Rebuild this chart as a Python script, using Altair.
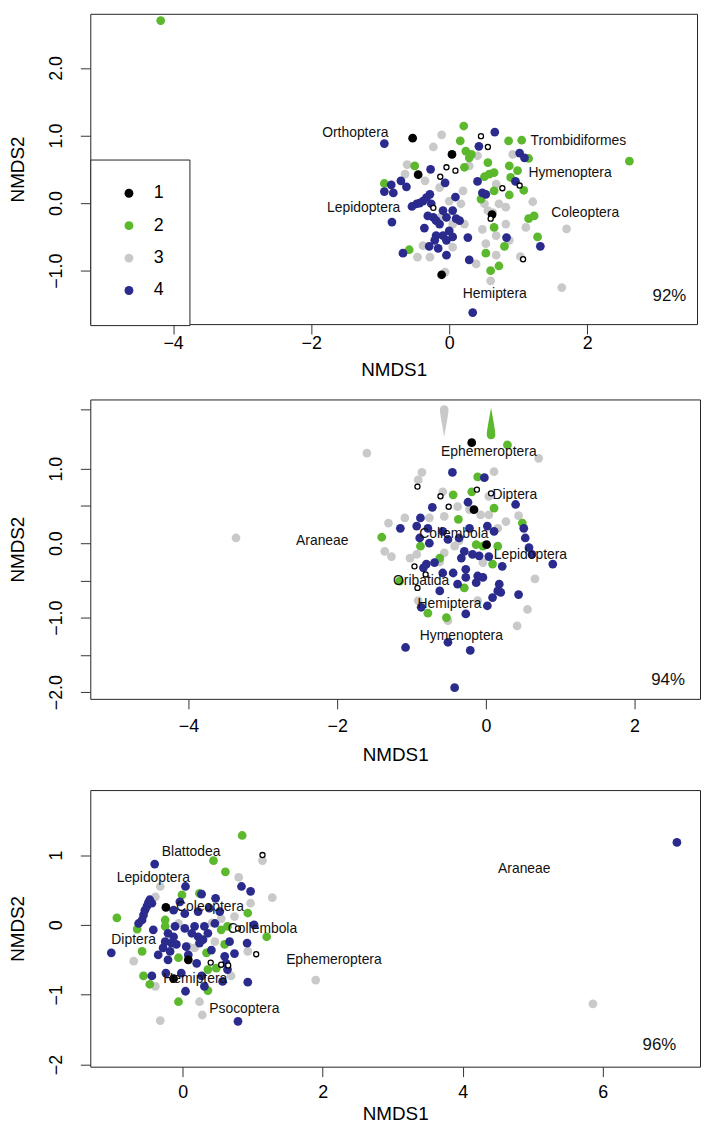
import altair as alt
import pandas as pd

FONT = "Liberation Sans"
GROUPS = ["1", "2", "3", "4"]
GROUP_COLORS = ["#000000", "#5cb82c", "#c9c9c9", "#2b2b8e"]
DRAW_ORDER = ["3", "2", "4", "1"]

# ---------------- panel 1 ----------------
P1_GROUP1 = [(-0.53, 0.96), (0.04, 0.72), (-0.45, 0.42), (-0.11, -1.06), (0.62, -0.17)]
P1_GROUP2 = [(-4.18, 2.70), (0.21, 1.14), (0.16, 0.92), (0.86, 0.92), (1.05, 0.93), (1.15, 0.66),
             (2.61, 0.62), (0.24, 0.77), (0.32, 0.72), (0.29, 0.67), (-0.50, 0.55), (-0.94, 0.29),
             (0.56, 0.60), (0.65, 0.45), (0.58, 0.43), (0.51, 0.39), (0.87, 0.55), (0.99, 0.48),
             (0.89, 0.38), (1.08, 0.19), (0.87, 0.12), (0.46, 0.06), (0.65, 0.18), (1.15, -0.23),
             (1.23, -0.19), (0.65, -0.36), (1.28, -0.50), (0.80, -0.64), (-0.58, -0.69), (0.53, -0.74),
             (0.72, -0.93), (0.60, -1.00), (0.22, 0.53)]
P1_GROUP3 = [(-0.11, 1.01), (-0.23, 0.83), (-0.61, 0.57), (0.29, 0.55), (0.41, 0.70), (0.92, 0.72),
             (-0.64, 0.43), (-0.35, 0.33), (-0.14, 0.23), (0.20, 0.18), (0.00, 0.03), (0.17, -0.01),
             (0.51, -0.01), (0.72, -0.01), (0.82, -0.06), (1.21, 0.02), (0.68, 0.28), (-0.11, -0.19),
             (0.05, -0.31), (0.22, -0.31), (0.48, -0.39), (0.68, -0.48), (0.82, -0.31), (1.11, -0.36),
             (1.70, -0.38), (-0.38, -0.63), (0.05, -0.65), (0.53, -0.60), (0.68, -0.77), (1.03, -0.79),
             (-0.46, -0.80), (-0.28, -0.80), (0.39, -0.90), (0.60, -1.15), (1.63, -1.25), (-0.06, -1.02),
             (0.87, -0.55), (0.63, -0.14), (0.56, -0.11)]
P1_GROUP4 = [(-0.94, 0.88), (0.66, 1.05), (0.43, 0.84), (1.02, 0.74), (1.09, 0.67), (-0.27, 0.50),
             (-0.84, 0.27), (-0.94, 0.17), (-0.81, 0.15), (-0.70, 0.33), (-0.62, 0.24), (-0.06, 0.30),
             (0.41, 0.32), (0.48, 0.15), (0.53, 0.13), (0.96, 0.32), (0.09, 0.09), (-0.28, 0.13),
             (-0.33, 0.08), (-0.38, 0.03), (-0.43, 0.00), (-0.47, -0.01), (-0.54, -0.05), (-0.26, -0.01),
             (-0.09, -0.11), (0.05, -0.11), (-0.31, -0.19), (-0.23, -0.21), (-0.19, -0.26), (-0.04, -0.21),
             (0.10, -0.23), (0.15, -0.26), (-0.83, -0.28), (-0.36, -0.37), (-0.14, -0.31), (0.00, -0.41),
             (-0.09, -0.48), (0.05, -0.50), (-0.19, -0.48), (-0.21, -0.55), (-0.04, -0.55), (0.27, -0.51),
             (-0.29, -0.64), (-0.16, -0.67), (-0.67, -0.74), (-0.04, -0.77), (0.29, -0.84), (0.83, -0.51),
             (1.32, -0.64), (0.34, -1.62)]
P1_OPEN = [(0.46, 0.99), (0.56, 0.83), (-0.04, 0.53), (0.09, 0.48), (-0.13, 0.39), (0.77, 0.22),
           (1.02, 0.26), (-0.23, -0.07), (0.60, -0.23), (1.07, -0.83)]
P1_TAXA = ["Orthoptera", "Trombidiformes", "Hymenoptera", "Lepidoptera", "Coleoptera", "Hemiptera"]
P1_TAXA_X = [-1.36, 1.87, 1.75, -1.24, 1.97, 0.66]
P1_TAXA_Y = [1.04, 0.92, 0.44, -0.08, -0.15, -1.34]
P1_FIT = ["92%"]
P1_FIT_X = [3.19]
P1_FIT_Y = [-1.37]

# ---------------- panel 2 ----------------
P2_GROUP1 = [(-0.19, 1.35), (0.01, -0.02), (-0.16, 0.45)]
P2_GROUP2 = [(0.29, 1.32), (-0.11, 0.89), (-0.44, 0.65), (-0.19, 0.69), (0.11, 0.47), (-0.37, 0.32),
             (-1.40, 0.08), (-0.88, -0.04), (-0.13, -0.02), (0.16, -0.04), (0.49, 0.27), (-0.62, -0.20),
             (0.09, -0.28), (-1.16, -0.51), (-0.29, -0.60), (-0.78, -0.94), (-0.53, -1.00), (-0.04, -0.04)]
P2_GROUP3 = [(-1.60, 1.21), (0.71, 1.14), (-3.36, 0.07), (-0.86, 0.95), (-0.91, 0.85), (0.11, 0.96),
             (-0.58, 0.69), (0.04, 0.63), (-0.38, 0.49), (-0.22, 0.45), (-0.07, 0.38), (0.04, 0.38),
             (-0.56, 0.36), (0.27, 0.29), (0.44, 0.37), (-1.31, 0.27), (-1.09, 0.34), (0.16, 0.20),
             (-0.36, 0.03), (-0.42, -0.04), (-1.36, -0.11), (-1.27, -0.18), (-1.02, -0.20), (-0.93, -0.15),
             (-0.56, -0.13), (-0.04, -0.26), (0.66, -0.48), (-0.76, 0.34), (-0.91, -0.77), (-0.11, -0.77),
             (0.56, -0.89), (0.42, -1.11), (-0.51, -1.04), (-0.62, -0.25)]
P2_GROUP4 = [(-0.45, 0.95), (-0.02, 0.88), (-0.24, 0.55), (-0.72, 0.48), (-0.88, 0.34), (0.40, 0.52),
             (-1.15, 0.20), (-0.93, 0.23), (-0.78, 0.20), (-0.58, 0.16), (-0.36, 0.07), (-0.22, 0.20),
             (0.02, 0.23), (0.11, 0.16), (0.51, 0.20), (0.53, 0.07), (0.58, -0.06), (0.62, -0.15),
             (0.90, -0.28), (-0.89, 0.07), (-0.76, 0.00), (-0.51, 0.05), (-0.29, -0.11), (-0.18, -0.15),
             (-0.09, -0.17), (0.04, -0.18), (-0.33, -0.20), (0.22, -0.31), (-0.80, -0.28), (-0.69, -0.26),
             (-0.84, -0.33), (-0.58, -0.40), (-0.44, -0.40), (-0.27, -0.35), (-0.11, -0.44), (-0.04, -0.46),
             (-0.38, -0.55), (-0.27, -0.46), (-0.13, -0.53), (-0.62, -0.64), (0.18, -0.55), (0.16, -0.64),
             (0.20, -0.66), (0.09, -0.73), (0.44, -0.69), (0.02, -0.84), (-0.87, -0.86), (-0.27, -0.95),
             (-1.08, -1.40), (-0.51, -1.33), (-0.21, -1.44), (-0.42, -1.94)]
P2_OPEN = [(-0.92, 0.76), (-0.61, 0.63), (-0.50, 0.49), (-0.12, 0.72), (0.07, 0.67), (-0.96, -0.31),
           (-0.81, -0.42), (-0.92, -0.60)]
P2_STREAK_GREY = [(-0.56, 1.64)]
P2_STREAK_GREEN = [(0.07, 1.61)]
P2_TAXA = ["Ephemeroptera", "Diptera", "Araneae", "Collembola", "Lepidoptera", "Oribatida",
           "Hemiptera", "Hymenoptera"]
P2_TAXA_X = [0.04, 0.39, -2.20, -0.43, 0.60, -0.87, -0.49, -0.33]
P2_TAXA_Y = [1.23, 0.65, 0.03, 0.12, -0.16, -0.51, -0.81, -1.24]
P2_FIT = ["94%"]
P2_FIT_X = [2.45]
P2_FIT_Y = [-1.84]

# ---------------- panel 3 ----------------
P3_GROUP1 = [(-0.24, 0.25), (0.08, -0.50), (-0.13, -0.77)]
P3_GROUP2 = [(0.85, 1.28), (0.44, 0.92), (0.61, 0.76), (-0.94, 0.10), (-0.65, -0.06), (-0.25, -0.02),
             (-0.01, 0.43), (0.24, 0.45), (0.93, 0.17), (1.20, -0.17), (0.55, -0.07), (0.64, -0.02),
             (0.60, -0.28), (-0.58, -0.38), (-0.06, -0.47), (0.34, -0.40), (0.36, -0.64), (0.48, -0.62),
             (-0.56, -0.73), (-0.47, -0.85), (0.36, -0.94), (-0.06, -1.10), (-0.25, 0.07)]
P3_GROUP3 = [(0.80, 0.68), (1.14, 0.92), (1.28, 0.39), (-0.32, 0.55), (-0.39, 0.40), (0.97, 0.31),
             (-0.06, 0.02), (0.42, 0.03), (0.55, 0.09), (0.74, 0.12), (0.17, -0.33), (-0.70, -0.52),
             (0.08, -0.31), (0.93, -0.38), (0.69, -0.73), (-0.39, -0.88), (0.24, -1.10), (0.28, -1.29),
             (-0.32, -1.37), (1.90, -0.79), (0.46, -0.24), (5.86, -1.13)]
P3_GROUP4 = [(-0.40, 0.87), (0.04, 0.55), (0.27, 0.44), (0.47, 0.38), (0.84, 0.55), (0.97, 0.48),
             (-0.58, 0.07), (-0.56, 0.14), (-0.54, 0.21), (-0.51, 0.27), (-0.49, 0.32), (-0.47, 0.36),
             (-0.44, 0.31), (-0.63, 0.02), (-0.13, 0.21), (0.03, 0.16), (0.22, 0.19), (0.31, -0.02),
             (0.46, 0.02), (0.03, -0.05), (-0.21, -0.12), (-0.13, -0.17), (-0.25, -0.24), (-0.16, -0.26),
             (-0.09, -0.28), (-0.28, -0.33), (-0.18, -0.38), (-0.35, -0.43), (-0.21, -0.50), (-0.42, -0.07),
             (0.22, -0.17), (0.29, -0.21), (0.36, -0.12), (0.24, -0.26), (0.41, -0.36), (0.05, -0.31),
             (0.08, -0.43), (0.20, -0.55), (0.60, -0.45), (0.74, -0.41), (0.62, -0.55), (0.64, -0.64),
             (0.57, -0.81), (0.93, -0.82), (1.02, 0.00), (0.92, -0.26), (0.67, -0.24), (-0.24, -0.69),
             (-0.44, -0.73), (-0.02, -0.69), (0.27, -0.73), (0.31, -0.88), (0.04, -0.95), (0.79, -1.38),
             (-1.02, -0.40), (-0.11, -0.02), (0.17, -0.02), (0.13, -0.12), (0.38, 0.24), (0.53, 0.19),
             (-0.04, 0.33), (7.06, 1.18)]
P3_OPEN = [(1.14, 1.00), (0.79, -0.05), (1.05, -0.42), (0.40, -0.54), (0.55, -0.57), (0.65, -0.58)]
P3_TAXA = ["Blattodea", "Lepidoptera", "Coleoptera", "Collembola", "Diptera", "Ephemeroptera",
           "Hemiptera", "Psocoptera", "Araneae"]
P3_TAXA_X = [0.12, -0.42, 0.39, 1.14, -0.70, 2.16, 0.18, 0.88, 4.88]
P3_TAXA_Y = [1.04, 0.67, 0.25, -0.06, -0.21, -0.50, -0.78, -1.21, 0.80]
P3_FIT = ["96%"]
P3_FIT_X = [6.81]
P3_FIT_Y = [-1.72]

GREY_STREAK = "M-0.27,-0.73 C-0.27,-1.09 0.27,-1.09 0.27,-0.73 C0.27,-0.4 0.06,0.6 0,1 C-0.06,0.6 -0.27,-0.4 -0.27,-0.73 Z"
GREEN_STREAK = "M-0.27,0.73 C-0.27,1.09 0.27,1.09 0.27,0.73 C0.27,0.4 0.06,-0.6 0,-1 C-0.06,-0.6 -0.27,0.4 -0.27,0.73 Z"


def pts_df(groups):
    rows = []
    for g in DRAW_ORDER:
        for x, y in groups[g]:
            rows.append({"x": x, "y": y, "g": g})
    return pd.DataFrame(rows)


def xy_df(pairs):
    return pd.DataFrame({"x": [p[0] for p in pairs], "y": [p[1] for p in pairs]})


def text_df(names, xs, ys):
    return pd.DataFrame({"x": xs, "y": ys, "name": names})


def make_panel(groups, open_pts, taxa, taxa_x, taxa_y, fit, fit_x, fit_y,
               xdom, ydom, xticks, yticks, ylabel_expr, w, h, xlab_pad, xtitle_pad,
               legend=None, extra=None):
    x_enc = alt.X("x:Q", scale=alt.Scale(domain=xdom, nice=False, zero=False),
                  axis=alt.Axis(values=xticks, format="d", title="NMDS1",
                                labelPadding=xlab_pad, titlePadding=xtitle_pad))
    y_enc = alt.Y("y:Q", scale=alt.Scale(domain=ydom, nice=False, zero=False),
                  axis=alt.Axis(values=yticks, labelExpr=ylabel_expr, title="NMDS2",
                                labelAngle=270, labelAlign="center", labelBaseline="alphabetic",
                                labelPadding=19, titlePadding=20))
    layers = []
    if extra:
        for pairs, shape, col in extra:
            layers.append(
                alt.Chart(xy_df(pairs)).mark_point(shape=shape, filled=True, size=1024,
                                                    opacity=1, color=col, strokeWidth=0)
                .encode(x=x_enc, y=y_enc))
    layers.append(
        alt.Chart(pts_df(groups)).mark_circle(size=78, opacity=1)
        .encode(x=x_enc, y=y_enc,
                color=alt.Color("g:N", scale=alt.Scale(domain=GROUPS, range=GROUP_COLORS),
                                legend=legend)))
    layers.append(
        alt.Chart(xy_df(open_pts)).mark_point(shape="circle", filled=True, fill="white",
                                              stroke="black", strokeWidth=1.3, size=26, opacity=1)
        .encode(x=x_enc, y=y_enc))
    layers.append(
        alt.Chart(text_df(taxa, taxa_x, taxa_y)).mark_text(font=FONT, fontSize=14, color="#111",
                                                             align="center", baseline="middle")
        .encode(x=x_enc, y=y_enc, text="name:N"))
    layers.append(
        alt.Chart(text_df(fit, fit_x, fit_y)).mark_text(font=FONT, fontSize=17, color="#111",
                                                         align="center", baseline="middle")
        .encode(x=x_enc, y=y_enc, text="name:N"))
    return alt.layer(*layers).properties(width=w, height=h)


legend1 = alt.Legend(title=None, orient="none", legendX=0, legendY=147, direction="vertical",
                     padding=25, strokeColor="#222", fillColor="white", symbolType="circle",
                     symbolSize=80, symbolStrokeWidth=0, labelFont=FONT, labelFontSize=18,
                     labelColor="#000", labelOffset=16, rowPadding=14.7, symbolOffset=5)

p1 = make_panel({"1": P1_GROUP1, "2": P1_GROUP2, "3": P1_GROUP3, "4": P1_GROUP4}, P1_OPEN,
                P1_TAXA, P1_TAXA_X, P1_TAXA_Y, P1_FIT, P1_FIT_X, P1_FIT_Y,
                [-5.20, 3.59], [-1.79, 2.80], [-4, -2, 0, 2], [-1, 0, 1, 2],
                "format(datum.value, '.1f')", 612, 313, 1, 8, legend=legend1)

p2 = make_panel({"1": P2_GROUP1, "2": P2_GROUP2, "3": P2_GROUP3, "4": P2_GROUP4}, P2_OPEN,
                P2_TAXA, P2_TAXA_X, P2_TAXA_Y, P2_FIT, P2_FIT_X, P2_FIT_Y,
                [-5.32, 2.88], [-2.09, 1.93], [-4, -2, 0, 2],
                [-2, -1.5, -1, -0.5, 0, 0.5, 1, 1.8],
                "datum.value % 1 == 0 ? format(datum.value, '.1f') : ''", 615, 302, 9, 10,
                extra=[(P2_STREAK_GREY, GREY_STREAK, GROUP_COLORS[2]),
                       (P2_STREAK_GREEN, GREEN_STREAK, GROUP_COLORS[1])])

p3 = make_panel({"1": P3_GROUP1, "2": P3_GROUP2, "3": P3_GROUP3, "4": P3_GROUP4}, P3_OPEN,
                P3_TAXA, P3_TAXA_X, P3_TAXA_Y, P3_FIT, P3_FIT_X, P3_FIT_Y,
                [-1.32, 7.39], [-2.03, 1.93], [0, 2, 4, 6], [-2, -1, 0, 1],
                "format(datum.value, 'd')", 615, 279, 7, 3)

top = alt.vconcat(p1, p2, spacing=76, bounds="flush").resolve_scale(color="independent")
chart = (
    alt.vconcat(top, p3, spacing=24, bounds="full")
    .resolve_scale(color="independent")
    .properties(padding=0)
    .configure_view(stroke="#222", strokeWidth=1)
    .configure_axis(domain=False, grid=False, tickColor="#333", tickWidth=1, tickSize=10,
                    labelFont=FONT, labelFontSize=18, labelColor="#000",
                    titleFont=FONT, titleFontSize=19, titleFontWeight="normal", titleColor="#000")
)

chart.save("out.html", embed_options={"renderer": "svg", "actions": False})
